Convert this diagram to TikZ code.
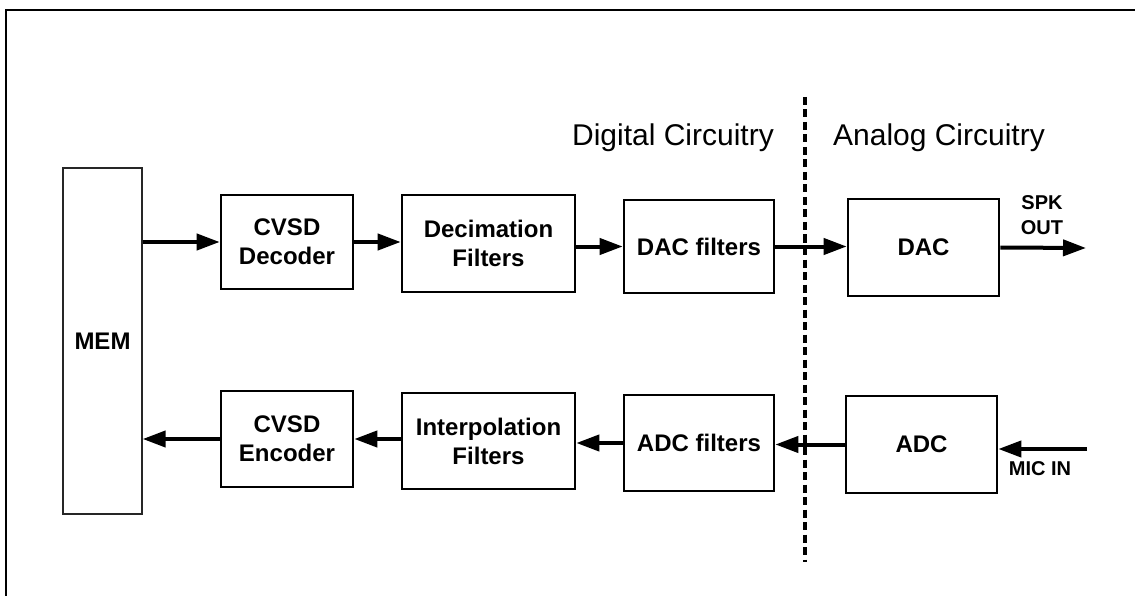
\documentclass[tikz,border=0pt]{standalone}
\usepackage{fontspec}
\setmainfont{Liberation Sans}
\usetikzlibrary{arrows.meta}
\begin{document}
\begin{tikzpicture}[x=1pt,y=-1pt,
  blk/.style={draw=black,line width=2.6pt,fill=white,inner sep=0pt,align=center,
    font=\fontsize{24}{29}\selectfont\bfseries},
  membox/.style={draw=black!85,line width=1.3pt,fill=white,inner sep=0pt,
    font=\fontsize{24}{29}\selectfont\bfseries},
  sig/.style={line width=4pt,-{Triangle[length=23pt,width=16pt]}},
  region/.style={font=\fontsize{30}{36}\selectfont,anchor=base,inner sep=0pt},
  io/.style={font=\fontsize{20}{24}\selectfont\bfseries,anchor=base,inner sep=0pt},
  divider/.style={line width=3.4pt,dash pattern=on 8pt off 4.5pt}]
\useasboundingbox (0,0) rectangle (1135,596);
% frame
\draw[line width=2.6pt] (6,596) -- (6,10) -- (1135,10);
% blocks
\node[membox,minimum width=79pt,minimum height=346pt] (mem) at (102.5,341) {MEM};
\node[blk,minimum width=132pt,minimum height=94pt] (dec) at (287,242) {CVSD\\Decoder};
\node[blk,minimum width=173pt,minimum height=97pt] (decim) at (488.5,243.5) {Decimation\\Filters};
\node[blk,minimum width=150pt,minimum height=93pt] (dacf) at (699,246.5) {DAC filters};
\node[blk,minimum width=151pt,minimum height=97pt] (dac) at (923.5,247.5) {DAC};
\node[blk,minimum width=132pt,minimum height=96pt] (enc) at (287,439) {CVSD\\Encoder};
\node[blk,minimum width=173pt,minimum height=96pt] (interp) at (488.5,441) {Interpolation\\Filters};
\node[blk,minimum width=150pt,minimum height=96pt] (adcf) at (699,443) {ADC filters};
\node[blk,minimum width=151pt,minimum height=97pt] (adc) at (921.5,444.5) {ADC};
% divider
\coordinate (dtop) at (805,97);
\coordinate (dbot) at (805,562);
\draw[divider] (dtop) -- (dbot);
% region labels
\node[region] (dig) at (673,146) {Digital Circuitry};
\node[region] (ana) at (939,146) {Analog Circuitry};
% io labels
\coordinate (spk) at (1086,248);
\coordinate (mic) at (1087,449);
\node[io] (spk1) at (1042,210) {SPK};
\node[io] (spk2) at (1042,235) {OUT};
\node[io] (micl) at (1040,475) {MIC IN};
% signal arrows
\draw[sig] (mem.east |- dec.west) -- (dec.west);
\draw[sig] (dec.east) -- (decim.west |- dec.east);
\draw[sig] (decim.east |- dacf.west) -- (dacf.west);
\draw[sig] (dacf.east) -- (dac.west |- dacf.east);
\draw[sig] (dac.east) -- (spk);
\draw[sig] (mic) -- (adc.east |- mic);
\draw[sig] (adc.west) -- (adcf.east |- adc.west);
\draw[sig] (adcf.west) -- (interp.east |- adcf.west);
\draw[sig] (interp.west |- enc.east) -- (enc.east);
\draw[sig] (enc.west) -- (mem.east |- enc.west);
\end{tikzpicture}
\end{document}
